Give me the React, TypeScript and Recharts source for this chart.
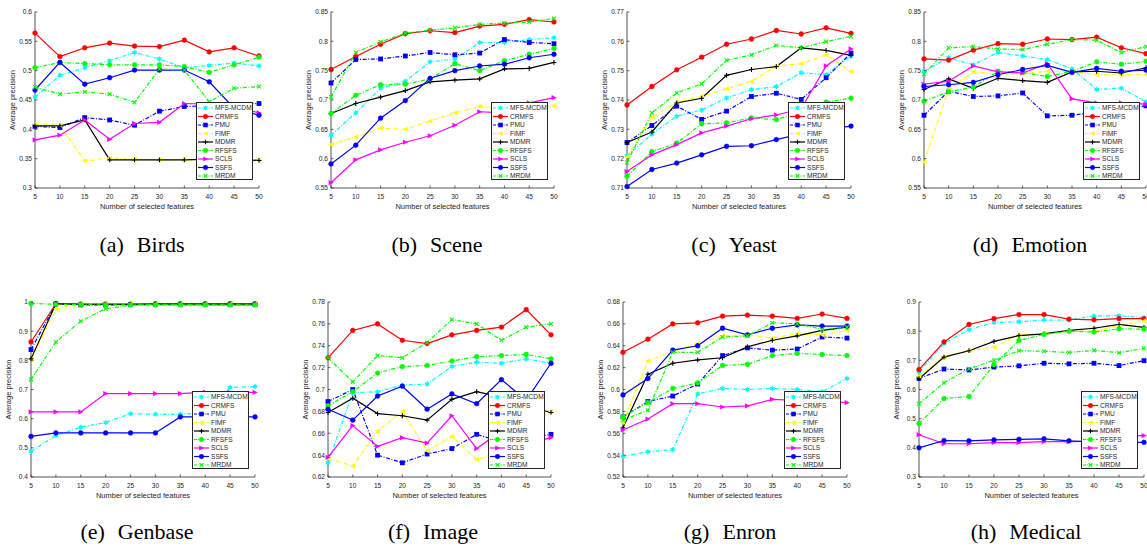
import React from 'react';
import { LineChart, Line, XAxis, YAxis } from 'recharts';

const FEATURES = [5, 10, 15, 20, 25, 30, 35, 40, 45, 50];
const METHODS = ['MFS-MCDM', 'CRMFS', 'PMU', 'FIMF', 'MDMR', 'RFSFS', 'SCLS', 'SSFS', 'MRDM'];

// each dataset: one row per method, same order as METHODS
const BIRDS = [
  [0.455, 0.492, 0.505, 0.517, 0.531, 0.520, 0.505, 0.509, 0.513, 0.508],
  [0.564, 0.524, 0.539, 0.547, 0.542, 0.541, 0.552, 0.532, 0.539, 0.525],
  [0.405, 0.403, 0.420, 0.416, 0.407, 0.431, 0.439, 0.440, 0.442, 0.444],
  [0.409, 0.407, 0.346, 0.351, 0.349, 0.348, 0.348, 0.348, 0.348, 0.347],
  [0.406, 0.406, 0.416, 0.348, 0.348, 0.348, 0.348, 0.349, 0.349, 0.347],
  [0.505, 0.514, 0.512, 0.510, 0.510, 0.510, 0.507, 0.497, 0.510, 0.523],
  [0.382, 0.390, 0.416, 0.383, 0.410, 0.412, 0.444, 0.443, 0.438, 0.428],
  [0.467, 0.514, 0.477, 0.488, 0.501, 0.501, 0.501, 0.481, 0.436, 0.424],
  [0.472, 0.460, 0.464, 0.460, 0.446, 0.503, 0.501, 0.447, 0.470, 0.473],
];
const SCENE = [
  [0.640, 0.678, 0.720, 0.732, 0.765, 0.770, 0.798, 0.798, 0.803, 0.806],
  [0.752, 0.774, 0.795, 0.813, 0.818, 0.815, 0.826, 0.829, 0.837, 0.833],
  [0.729, 0.769, 0.770, 0.775, 0.781, 0.777, 0.780, 0.803, 0.798, 0.796],
  [0.624, 0.637, 0.652, 0.650, 0.664, 0.678, 0.689, 0.683, 0.688, 0.690],
  [0.677, 0.694, 0.705, 0.716, 0.731, 0.734, 0.736, 0.753, 0.754, 0.764],
  [0.677, 0.708, 0.726, 0.727, 0.736, 0.762, 0.750, 0.767, 0.778, 0.788],
  [0.559, 0.598, 0.615, 0.628, 0.639, 0.657, 0.680, 0.678, 0.695, 0.704],
  [0.591, 0.623, 0.669, 0.699, 0.737, 0.750, 0.758, 0.761, 0.772, 0.778],
  [0.705, 0.781, 0.799, 0.814, 0.819, 0.823, 0.829, 0.831, 0.833, 0.839],
];
const YEAST = [
  [0.7210, 0.7284, 0.7345, 0.7366, 0.7407, 0.7435, 0.7446, 0.7493, 0.7486, 0.7550],
  [0.7383, 0.7446, 0.7503, 0.7546, 0.7590, 0.7608, 0.7637, 0.7625, 0.7646, 0.7627],
  [0.7255, 0.7313, 0.7379, 0.7334, 0.7362, 0.7412, 0.7423, 0.7402, 0.7476, 0.7560],
  [0.7205, 0.7341, 0.7393, 0.7413, 0.7438, 0.7463, 0.7516, 0.7524, 0.7554, 0.7497],
  [0.7255, 0.7291, 0.7390, 0.7406, 0.7484, 0.7504, 0.7514, 0.7578, 0.7569, 0.7552],
  [0.7140, 0.7224, 0.7253, 0.7319, 0.7322, 0.7339, 0.7333, 0.7360, 0.7393, 0.7406],
  [0.7156, 0.7213, 0.7248, 0.7288, 0.7311, 0.7336, 0.7349, 0.7370, 0.7516, 0.7574],
  [0.7105, 0.7163, 0.7185, 0.7213, 0.7242, 0.7244, 0.7265, 0.7285, 0.7300, 0.7311],
  [0.7187, 0.7356, 0.7424, 0.7455, 0.7535, 0.7554, 0.7586, 0.7578, 0.7599, 0.7617],
];
const EMOTION = [
  [0.749, 0.772, 0.760, 0.781, 0.775, 0.769, 0.753, 0.718, 0.720, 0.697],
  [0.770, 0.768, 0.785, 0.796, 0.795, 0.804, 0.803, 0.807, 0.789, 0.779],
  [0.674, 0.715, 0.706, 0.707, 0.712, 0.673, 0.674, 0.680, 0.685, 0.690],
  [0.594, 0.718, 0.748, 0.744, 0.745, 0.749, 0.749, 0.743, 0.743, 0.744],
  [0.718, 0.736, 0.720, 0.737, 0.733, 0.730, 0.748, 0.749, 0.746, 0.755],
  [0.698, 0.714, 0.722, 0.749, 0.747, 0.740, 0.749, 0.765, 0.761, 0.766],
  [0.727, 0.732, 0.758, 0.748, 0.746, 0.762, 0.702, 0.695, 0.695, 0.693],
  [0.723, 0.726, 0.730, 0.743, 0.752, 0.759, 0.747, 0.754, 0.749, 0.751],
  [0.744, 0.789, 0.791, 0.787, 0.786, 0.795, 0.803, 0.802, 0.781, 0.791],
];
const GENBASE = [
  [0.488, 0.542, 0.571, 0.587, 0.617, 0.615, 0.615, 0.620, 0.707, 0.710],
  [0.863, 0.994, 0.993, 0.993, 0.993, 0.994, 0.994, 0.994, 0.994, 0.994],
  [0.837, 0.993, 0.990, 0.990, 0.991, 0.991, 0.991, 0.991, 0.991, 0.991],
  [0.802, 0.977, 0.994, 0.993, 0.993, 0.993, 0.993, 0.993, 0.993, 0.993],
  [0.805, 0.994, 0.992, 0.992, 0.992, 0.993, 0.993, 0.993, 0.993, 0.993],
  [0.995, 0.992, 0.991, 0.990, 0.990, 0.990, 0.990, 0.990, 0.990, 0.990],
  [0.623, 0.623, 0.623, 0.686, 0.686, 0.686, 0.686, 0.691, 0.690, 0.690],
  [0.539, 0.551, 0.551, 0.551, 0.551, 0.551, 0.606, 0.606, 0.606, 0.606],
  [0.734, 0.863, 0.934, 0.977, 0.989, 0.991, 0.990, 0.990, 0.989, 0.989],
];
const IMAGE = [
  [0.633, 0.697, 0.698, 0.704, 0.705, 0.721, 0.725, 0.724, 0.728, 0.724],
  [0.729, 0.754, 0.760, 0.745, 0.742, 0.750, 0.754, 0.757, 0.773, 0.750],
  [0.689, 0.700, 0.640, 0.633, 0.641, 0.646, 0.659, 0.652, 0.655, 0.659],
  [0.637, 0.630, 0.662, 0.680, 0.644, 0.657, 0.636, 0.642, 0.660, 0.680],
  [0.679, 0.692, 0.678, 0.676, 0.672, 0.691, 0.698, 0.693, 0.685, 0.679],
  [0.685, 0.698, 0.715, 0.721, 0.722, 0.726, 0.730, 0.731, 0.732, 0.728],
  [0.638, 0.667, 0.648, 0.656, 0.651, 0.676, 0.646, 0.662, 0.650, 0.656],
  [0.682, 0.672, 0.694, 0.703, 0.682, 0.696, 0.687, 0.709, 0.690, 0.724],
  [0.729, 0.707, 0.731, 0.729, 0.743, 0.764, 0.760, 0.745, 0.757, 0.760],
];
const ENRON = [
  [0.539, 0.543, 0.545, 0.596, 0.601, 0.600, 0.601, 0.600, 0.598, 0.610],
  [0.634, 0.646, 0.660, 0.661, 0.667, 0.668, 0.667, 0.665, 0.669, 0.665],
  [0.575, 0.589, 0.594, 0.605, 0.631, 0.638, 0.636, 0.637, 0.648, 0.647],
  [0.570, 0.626, 0.635, 0.642, 0.649, 0.650, 0.647, 0.651, 0.650, 0.654],
  [0.565, 0.614, 0.624, 0.627, 0.629, 0.639, 0.645, 0.649, 0.654, 0.657],
  [0.575, 0.588, 0.601, 0.606, 0.622, 0.623, 0.631, 0.633, 0.632, 0.631],
  [0.563, 0.573, 0.587, 0.587, 0.584, 0.585, 0.591, 0.590, 0.589, 0.588],
  [0.595, 0.610, 0.636, 0.640, 0.656, 0.650, 0.656, 0.659, 0.658, 0.658],
  [0.572, 0.581, 0.634, 0.634, 0.648, 0.649, 0.661, 0.660, 0.655, 0.657],
];
const MEDICAL = [
  [0.660, 0.758, 0.805, 0.830, 0.832, 0.838, 0.838, 0.852, 0.853, 0.846],
  [0.668, 0.763, 0.823, 0.843, 0.857, 0.857, 0.841, 0.839, 0.843, 0.843],
  [0.638, 0.670, 0.667, 0.677, 0.681, 0.690, 0.688, 0.690, 0.682, 0.699],
  [0.645, 0.713, 0.733, 0.745, 0.787, 0.793, 0.800, 0.800, 0.820, 0.835],
  [0.637, 0.711, 0.733, 0.765, 0.785, 0.791, 0.803, 0.810, 0.823, 0.813],
  [0.483, 0.569, 0.576, 0.685, 0.768, 0.789, 0.800, 0.797, 0.808, 0.807],
  [0.445, 0.414, 0.414, 0.418, 0.418, 0.421, 0.421, 0.423, 0.440, 0.442],
  [0.400, 0.425, 0.424, 0.427, 0.429, 0.431, 0.424, 0.420, 0.420, 0.419],
  [0.551, 0.623, 0.671, 0.700, 0.733, 0.731, 0.727, 0.734, 0.726, 0.741],
];

const TICKS_A = [0.3, 0.35, 0.4, 0.45, 0.5, 0.55, 0.6];
const TICKS_B = [0.55, 0.6, 0.65, 0.7, 0.75, 0.8, 0.85];
const TICKS_C = [0.71, 0.72, 0.73, 0.74, 0.75, 0.76, 0.77];
const TICKS_E = [0.4, 0.5, 0.6, 0.7, 0.8, 0.9, 1];
const TICKS_F = [0.62, 0.64, 0.66, 0.68, 0.7, 0.72, 0.74, 0.76, 0.78];
const TICKS_G = [0.52, 0.54, 0.56, 0.58, 0.6, 0.62, 0.64, 0.66, 0.68];
const TICKS_H = [0.3, 0.4, 0.5, 0.6, 0.7, 0.8, 0.9];

const STYLES = [
  { color: '#00FFFF', shape: 'hexagram', dashed: true },
  { color: '#FF0000', shape: 'circle', dashed: false },
  { color: '#0000FF', shape: 'square', dashed: true },
  { color: '#FFFF00', shape: 'triLeft', dashed: true },
  { color: '#000000', shape: 'plus', dashed: false },
  { color: '#00FF00', shape: 'circle', dashed: true },
  { color: '#FF00FF', shape: 'triRight', dashed: false },
  { color: '#0000FF', shape: 'circle', dashed: false },
  { color: '#00FF00', shape: 'cross', dashed: true },
];

const PANELS = [
  { tag: '(a)', name: 'Birds', data: BIRDS, ticks: TICKS_A, l: 35, r: 259, t: 12, b: 188, cx: 142 },
  { tag: '(b)', name: 'Scene', data: SCENE, ticks: TICKS_B, l: 331, r: 554, t: 12, b: 188, cx: 437 },
  { tag: '(c)', name: 'Yeast', data: YEAST, ticks: TICKS_C, l: 627, r: 851, t: 12, b: 188, cx: 734 },
  { tag: '(d)', name: 'Emotion', data: EMOTION, ticks: TICKS_B, l: 924, r: 1146, t: 12, b: 188, cx: 1030 },
  { tag: '(e)', name: 'Genbase', data: GENBASE, ticks: TICKS_E, l: 31, r: 255, t: 302, b: 477, cx: 137 },
  { tag: '(f)', name: 'Image', data: IMAGE, ticks: TICKS_F, l: 328, r: 551, t: 302, b: 477, cx: 433 },
  { tag: '(g)', name: 'Enron', data: ENRON, ticks: TICKS_G, l: 623, r: 847, t: 302, b: 477, cx: 730 },
  { tag: '(h)', name: 'Medical', data: MEDICAL, ticks: TICKS_H, l: 919, r: 1144, t: 302, b: 477, cx: 1026 },
];

const PAD_L = 40;
const PAD_R = 12;
const PAD_T = 6;
const PAD_B = 26;
const LEG_W = 57;
const LEG_H = 78;
const INK = '#262626';
const SANS = '"Liberation Sans", Arial, sans-serif';
const DASH = '4 1.6 1 1.6';

function Marker({ shape, color, cx, cy, s = 1 }: any) {
  if (cx == null || cy == null) return null;
  const r = 2.4 * s;
  if (shape === 'circle') return <circle cx={cx} cy={cy} r={r} fill={color} stroke={color} strokeWidth={0.5} />;
  if (shape === 'square') return <rect x={cx - r} y={cy - r} width={2 * r} height={2 * r} fill={color} />;
  if (shape === 'triLeft')
    return <polygon points={`${cx - r - 0.4},${cy} ${cx + r},${cy - r - 0.2} ${cx + r},${cy + r + 0.2}`} fill={color} />;
  if (shape === 'triRight')
    return <polygon points={`${cx + r + 0.4},${cy} ${cx - r},${cy - r - 0.2} ${cx - r},${cy + r + 0.2}`} fill={color} />;
  if (shape === 'plus')
    return (
      <path d={`M${cx - r},${cy}H${cx + r}M${cx},${cy - r}V${cy + r}`} stroke={color} strokeWidth={1.1} />
    );
  if (shape === 'cross') {
    const q = r * 0.8;
    return (
      <path d={`M${cx - q},${cy - q}L${cx + q},${cy + q}M${cx - q},${cy + q}L${cx + q},${cy - q}`} stroke={color} strokeWidth={1.1} />
    );
  }
  // hexagram
  const h = r * 1.25;
  const k = h * 0.866;
  return (
    <g fill={color}>
      <polygon points={`${cx},${cy - h} ${cx + k},${cy + h / 2} ${cx - k},${cy + h / 2}`} />
      <polygon points={`${cx},${cy + h} ${cx + k},${cy - h / 2} ${cx - k},${cy - h / 2}`} />
    </g>
  );
}

function fmt(v: number) {
  return String(Number(v.toFixed(2)));
}

function XTick({ x, y, payload }: any) {
  return (
    <g>
      <line x1={x} x2={x} y1={y} y2={y - 2.5} stroke={INK} strokeWidth={0.7} />
      <text x={x} y={y + 10.5} textAnchor="middle" fontSize={6.6} fontFamily={SANS} fill={INK}>
        {payload.value}
      </text>
    </g>
  );
}

function YTick({ x, y, payload }: any) {
  return (
    <g>
      <line x1={x} x2={x + 2.5} y1={y} y2={y} stroke={INK} strokeWidth={0.7} />
      <text x={x - 3} y={y + 2.4} textAnchor="end" fontSize={6.6} fontFamily={SANS} fill={INK}>
        {fmt(payload.value)}
      </text>
    </g>
  );
}

function LegendBox({ left, top }: any) {
  return (
    <div
      style={{
        position: 'absolute',
        left,
        top,
        width: LEG_W - 2,
        height: LEG_H - 2,
        border: `1px solid ${INK}`,
        background: '#ffffff',
        zIndex: 5,
      }}
    >
      <svg width={LEG_W - 2} height={LEG_H - 2} style={{ display: 'block' }}>
        {METHODS.map((m, i) => {
          const st = STYLES[i];
          const y = 5 + i * 8.5;
          return (
            <g key={m}>
              <line x1={1} x2={16} y1={y} y2={y} stroke={st.color} strokeWidth={1.2} strokeDasharray={st.dashed ? '3 1.2 1 1.2' : undefined} />
              <Marker shape={st.shape} color={st.color} cx={8.5} cy={y} s={0.95} />
              <text x={18} y={y + 2.3} fontSize={6.6} fontFamily={SANS} fill={INK}>
                {m}
              </text>
            </g>
          );
        })}
      </svg>
    </div>
  );
}

function Panel({ p }: any) {
  const rows = FEATURES.map((f, i) => {
    const row: any = { f };
    p.data.forEach((s: number[], k: number) => {
      row['m' + k] = s[i];
    });
    return row;
  });
  const w = p.r - p.l + PAD_L + PAD_R;
  const h = p.b - p.t + PAD_T + PAD_B;
  const legLeft = p.r - 6.5 - LEG_W - (p.l - PAD_L);
  const legTop = p.b - 8 - LEG_H - (p.t - PAD_T);
  const yDomain = [p.ticks[0], p.ticks[p.ticks.length - 1]];
  return (
    <div style={{ position: 'absolute', left: p.l - PAD_L, top: p.t - PAD_T, width: w, height: h }}>
      <LineChart width={w} height={h} data={rows} margin={{ top: PAD_T, right: PAD_R, bottom: 0, left: 0 }}>
        <XAxis
          dataKey="f"
          type="number"
          domain={[5, 50]}
          ticks={FEATURES}
          interval={0}
          height={PAD_B}
          tickSize={0}
          tickMargin={0}
          tickLine={false}
          tick={(props: any) => <XTick {...props} />}
          axisLine={{ stroke: INK, strokeWidth: 0.8 }}
        />
        <YAxis
          type="number"
          domain={yDomain}
          ticks={p.ticks}
          interval={0}
          width={PAD_L}
          tickSize={0}
          tickMargin={0}
          tickLine={false}
          tick={(props: any) => <YTick {...props} />}
          axisLine={{ stroke: INK, strokeWidth: 0.8 }}
        />
        {STYLES.map((st, k) => (
          <Line
            key={METHODS[k]}
            type="linear"
            dataKey={'m' + k}
            name={METHODS[k]}
            stroke={st.color}
            strokeWidth={1.2}
            strokeDasharray={st.dashed ? DASH : undefined}
            dot={(d: any) => <Marker key={`${k}-${d.index}`} shape={st.shape} color={st.color} cx={d.cx} cy={d.cy} />}
            activeDot={false}
            isAnimationActive={false}
          />
        ))}
      </LineChart>
      <LegendBox left={Math.round(legLeft)} top={Math.round(legTop)} />
    </div>
  );
}

export default function App() {
  return (
    <div style={{ position: 'absolute', left: 0, top: 0, width: 1147, height: 550, overflow: 'hidden', background: '#fff' }}>
      <svg width={1147} height={550} style={{ position: 'absolute', left: 0, top: 0 }}>
        {PANELS.map((p) => {
          const midY = (p.t + p.b) / 2;
          const baseY = p.t < 100 ? 252 : 539;
          return (
            <g key={p.name}>
              <text
                x={p.l - 20}
                y={midY}
                transform={`rotate(-90 ${p.l - 20} ${midY})`}
                textAnchor="middle"
                fontSize={7.5}
                fontFamily={SANS}
                fill={INK}
              >
                Average precision
              </text>
              <text x={(p.l + p.r) / 2} y={p.b + 20.5} textAnchor="middle" fontSize={7.5} fontFamily={SANS} fill={INK}>
                Number of selected features
              </text>
              <text x={p.cx} y={baseY} textAnchor="middle" fontSize={22} fontFamily='"Liberation Serif", "Times New Roman", serif' fill="#000">
                {p.tag}
                <tspan dx={13}>{p.name}</tspan>
              </text>
            </g>
          );
        })}
      </svg>
      {PANELS.map((p) => (
        <Panel key={p.name} p={p} />
      ))}
    </div>
  );
}
